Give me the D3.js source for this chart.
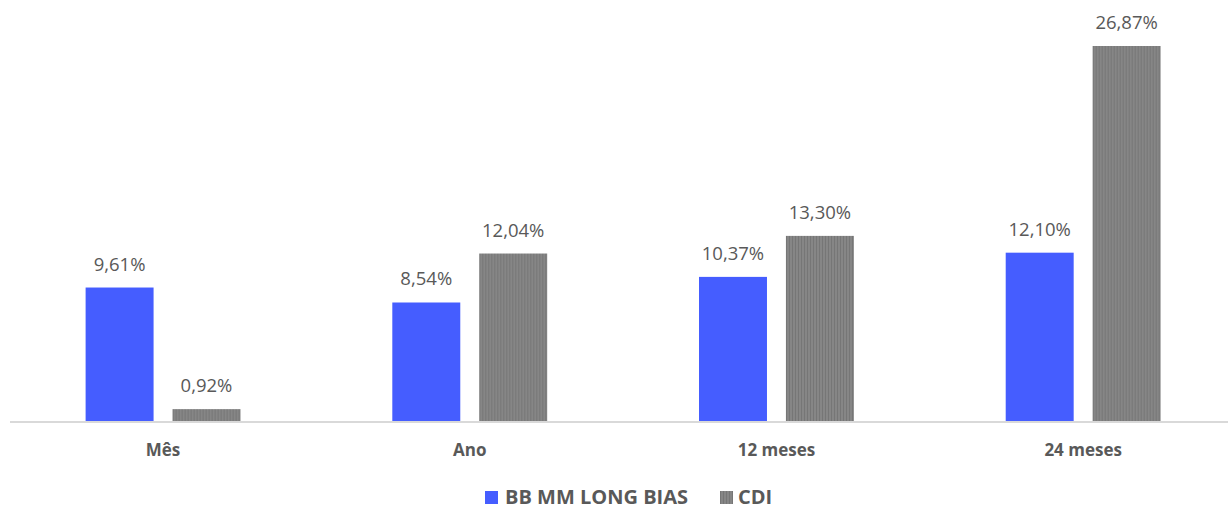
<!DOCTYPE html>
<html><head><meta charset="utf-8">
<script src="https://cdn.jsdelivr.net/npm/d3@7"></script>
<style>
html,body{margin:0;padding:0;background:#fff;}
svg{display:block;font-family:"Open Sans",sans-serif;}
</style></head>
<body>
<svg id="chart" width="1228" height="510"></svg>
<script>
const categories = ["Mês", "Ano", "12 meses", "24 meses"];
const seriesNames = ["BB MM LONG BIAS", "CDI"];
const bbValues = [9.61, 8.54, 10.37, 12.10];
const cdiValues = [0.92, 12.04, 13.30, 26.87];

const W = 1228, H = 510;
const svg = d3.select("#chart");
const defs = svg.append("defs");
const pat = defs.append("pattern").attr("id","gstripe").attr("patternUnits","userSpaceOnUse")
  .attr("width",3).attr("height",3);
pat.append("rect").attr("width",3).attr("height",3).attr("fill","#868686");
pat.append("rect").attr("width",1).attr("height",3).attr("fill","#767676");

const colors = ["#455DFF", "url(#gstripe)"];

const baseY = 422;
const x0 = d3.scaleBand().domain(categories).range([9.7, 1236.5]).paddingInner(0.495).paddingOuter(0.2475);
const x1 = d3.scaleBand().domain(seriesNames).range([0, x0.bandwidth()]).paddingInner(0.218).paddingOuter(0);
const y = d3.scaleLinear().domain([0, 26.87]).range([baseY, 46]);

const data = categories.map((c,i)=>({cat:c, vals:[bbValues[i], cdiValues[i]]}));
const fmt = v => v.toFixed(2).replace(".", ",") + "%";

const g = svg.append("g");
const groups = g.selectAll("g.grp").data(data).join("g").attr("class","grp")
  .attr("transform", d=>`translate(${x0(d.cat)},0)`);
groups.selectAll("rect").data(d=>d.vals.map((v,i)=>({s:seriesNames[i], v, i})))
  .join("rect")
  .attr("x", d=>x1(d.s)).attr("width", x1.bandwidth())
  .attr("y", d=>y(d.v)).attr("height", d=>baseY - y(d.v))
  .attr("fill", d=>colors[d.i]);
groups.selectAll("text.val").data(d=>d.vals.map((v,i)=>({s:seriesNames[i], v, i})))
  .join("text").attr("class","val")
  .attr("x", d=>x1(d.s)+x1.bandwidth()/2).attr("y", d=>y(d.v)-17)
  .attr("text-anchor","middle").attr("font-size",18.5).attr("fill","#595959")
  .text(d=>fmt(d.v));

// axis
const axis = d3.axisBottom(x0).tickSize(0).tickPadding(0);
const ax = svg.append("g").attr("transform",`translate(0,${baseY})`).call(axis);
ax.select(".domain").attr("stroke","#d9d9d9").attr("stroke-width",2).attr("d",`M10,0H1228`);
ax.selectAll(".tick text").attr("y",34).attr("dy",0).attr("font-size",17).attr("font-weight","bold")
  .attr("fill","#595959").attr("font-family","'Open Sans',sans-serif");

// legend
const leg = svg.append("g");
const legItems = [{x:485, tx:505}, {x:720, tx:738}];
seriesNames.forEach((s,i)=>{
  leg.append("rect").attr("x",legItems[i].x).attr("y",491).attr("width",13).attr("height",13).attr("fill",colors[i]);
  leg.append("text").attr("x",legItems[i].tx).attr("y",504).attr("font-size",20).attr("font-weight","bold")
    .attr("fill","#595959").text(s);
});
</script>
</body></html>
